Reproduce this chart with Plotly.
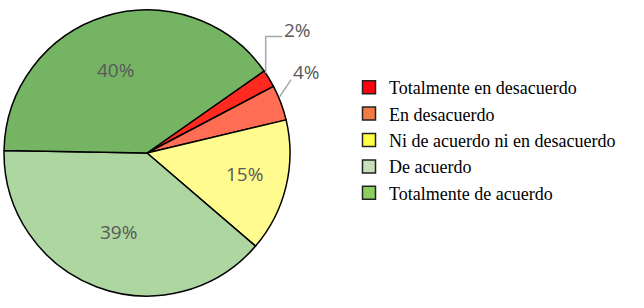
import math
import plotly.graph_objects as go

categories = ["Totalmente en desacuerdo", "En desacuerdo",
              "Ni de acuerdo ni en desacuerdo", "De acuerdo",
              "Totalmente de acuerdo"]
values = [2, 4, 15, 39, 40]
pct_labels = ["2%", "4%", "15%", "39%", "40%"]

slice_colors = ["#FF2A1F", "#FF6E54", "#FFFB8E", "#ADD6A0", "#75B463"]
legend_colors = ["#FF0010", "#F07C44", "#FFFF44", "#C6E0B8", "#8CCF60"]

W, H = 644, 308
CX, CY, R = 147, 153, 143          # pie centre / radius in px
ROTATION = 55                       # start angle, clockwise from 12 o'clock

# label placement styles (kind, radius factor, angle shift deg) per slice
label_style = [("out", 1.36, -8.0), ("out", 1.25, -6.5),
               ("in", 0.70, -1.5), ("in", 0.59, -0.8), ("in", 0.62, -3.5)]


def px(x, y):
    return x / W, 1 - y / H


def polar(angle_deg, r):
    a = math.radians(angle_deg)
    return CX + r * math.sin(a), CY - r * math.cos(a)


fig = go.Figure()
fig.add_trace(go.Pie(
    labels=categories, values=values, sort=False, direction="clockwise",
    rotation=ROTATION, textinfo="none", hoverinfo="label+percent",
    marker=dict(colors=slice_colors, line=dict(color="black", width=1.5)),
    domain=dict(x=[(CX - R) / W, (CX + R) / W],
                y=[1 - (CY + R) / H, 1 - (CY - R) / H]),
    showlegend=False,
))

# legend entries
for name, col in zip(categories, legend_colors):
    fig.add_trace(go.Scatter(
        x=[None], y=[None], mode="markers", name=name,
        marker=dict(symbol="square", size=13, color=col,
                    line=dict(color="#222222", width=1.5)),
    ))

total = sum(values)
start = ROTATION
annotations = []
shapes = []
for v, lab, (kind, rf, shift) in zip(values, pct_labels, label_style):
    span = 360 * v / total
    mid = start + span / 2
    start += span
    tx, ty = polar(mid + shift, R * rf)
    x, y = px(tx, ty)
    annotations.append(dict(x=x, y=y, xref="paper", yref="paper",
                            xanchor="center", yanchor="middle",
                            text=lab, showarrow=False,
                            font=dict(family="Open Sans", size=19,
                                      color="#595959")))
    if kind == "out":
        ax_, ay_ = polar(mid - 2.5, R)
        if rf > 1.3:
            ex, ey = ax_, ty + 7
            hx = tx - 15
            path = "M{},{} L{},{} L{},{}".format(
                *px(ax_, ay_), *px(ex, ey), *px(hx, ey))
        else:
            path = "M{},{} L{},{}".format(*px(ax_ + 1, ay_), *px(tx - 15, ty + 8))
        shapes.append(dict(type="path", xref="paper", yref="paper",
                           path=path, line=dict(color="#A6A6A6", width=1.5)))

fig.update_layout(
    width=W, height=H,
    margin=dict(l=0, r=0, t=0, b=0),
    paper_bgcolor="white", plot_bgcolor="white",
    xaxis=dict(visible=False), yaxis=dict(visible=False),
    annotations=annotations, shapes=shapes,
    legend=dict(x=349 / W, y=1 - 69 / H, xanchor="left", yanchor="top",
                font=dict(family="Liberation Serif", size=18, color="black"),
                bgcolor="rgba(0,0,0,0)", tracegroupgap=0),
)

fig.write_html("out.html", config={"displayModeBar": False},
               post_script="document.body.style.margin='0';")
